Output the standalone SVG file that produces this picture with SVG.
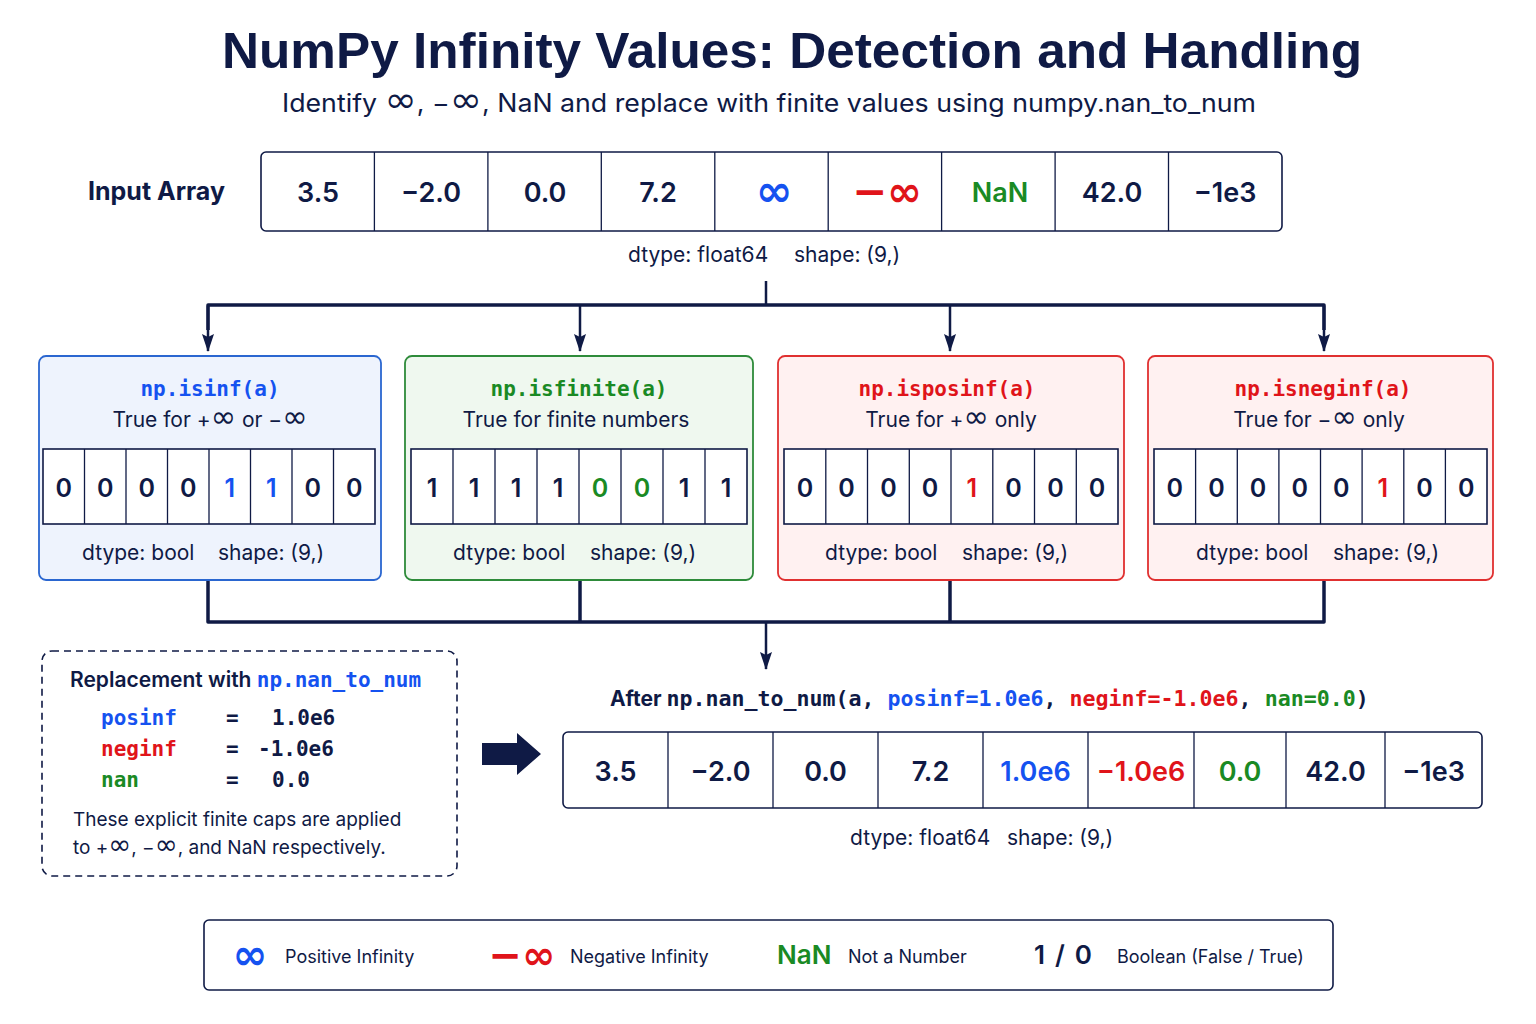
<svg xmlns="http://www.w3.org/2000/svg" width="1536" height="1024" viewBox="0 0 1536 1024">
<defs>
<marker id="ah" markerWidth="18" markerHeight="12" refX="17" refY="6" orient="auto" markerUnits="userSpaceOnUse" viewBox="0 0 18 12">
<path d="M0,0 L18,6 L0,12 L3,6 Z" fill="#0f1a45"/>
</marker>
<style>
.navy{fill:#0f1a45}
.blue{fill:#1552f0}
.red{fill:#e0141a}
.green{fill:#1a8a24}
.sans{font-family:Inter,"Liberation Sans",sans-serif}
.mono{font-family:"DejaVu Sans Mono","Liberation Mono",monospace;font-weight:bold}
.cellv{font-family:Inter,"Liberation Sans",sans-serif;font-size:27px;font-weight:600;text-anchor:middle}
.boolv{font-family:Inter,"Liberation Sans",sans-serif;font-size:25px;font-weight:600;text-anchor:middle}
.meta{font-family:Inter,"Liberation Sans",sans-serif;font-size:21px;fill:#0f1a45}
.arr{fill:#fff;stroke:#0f1a45;stroke-width:1.6}
.div{stroke:#0f1a45;stroke-width:1.3}
.conn{fill:none;stroke:#0f1a45;stroke-width:3.5;stroke-linejoin:round}
.connt{fill:none;stroke:#0f1a45;stroke-width:2.5}
.inf{font-family:"DejaVu Sans",sans-serif;font-weight:bold}
.infs{font-family:"DejaVu Sans",sans-serif;font-size:1.45em}
</style>
</defs>
<rect width="1536" height="1024" fill="#ffffff"/>

<g id="title">
<text x="792" y="68" text-anchor="middle" class="navy" font-family="Liberation Sans,sans-serif" font-weight="bold" font-size="50" textLength="1140" lengthAdjust="spacingAndGlyphs">NumPy Infinity Values: Detection and Handling</text>
<text x="769" y="112" text-anchor="middle" class="navy sans" font-size="25" textLength="974" lengthAdjust="spacingAndGlyphs">Identify <tspan class="infs">∞</tspan>, −<tspan class="infs">∞</tspan>, NaN and replace with finite values using numpy.nan_to_num</text>
</g>

<g id="input-array">
<text x="88" y="200" class="navy sans" font-size="25" font-weight="bold">Input Array</text>
<rect x="261" y="152" width="1021" height="79" rx="5" class="arr"/>
<g class="div">
<line x1="374.4" y1="152" x2="374.4" y2="231"/><line x1="487.9" y1="152" x2="487.9" y2="231"/><line x1="601.3" y1="152" x2="601.3" y2="231"/><line x1="714.8" y1="152" x2="714.8" y2="231"/><line x1="828.2" y1="152" x2="828.2" y2="231"/><line x1="941.6" y1="152" x2="941.6" y2="231"/><line x1="1055.1" y1="152" x2="1055.1" y2="231"/><line x1="1168.5" y1="152" x2="1168.5" y2="231"/>
</g>
<text x="318" y="202" class="cellv navy">3.5</text>
<text x="431" y="202" class="cellv navy">−2.0</text>
<text x="545" y="202" class="cellv navy">0.0</text>
<text x="658" y="202" class="cellv navy">7.2</text>
<text x="774" y="206" class="inf blue" font-size="44" text-anchor="middle">∞</text>
<text x="887" y="206" class="inf red" font-size="42" text-anchor="middle">−∞</text>
<text x="1000" y="202" class="cellv green">NaN</text>
<text x="1112" y="202" class="cellv navy">42.0</text>
<text x="1225" y="202" class="cellv navy">−1e3</text>
<text x="628" y="262" class="meta">dtype: float64</text>
<text x="794" y="262" class="meta">shape: (9,)</text>
</g>

<g id="connectors">
<line x1="766" y1="281" x2="766" y2="305" class="connt"/>
<path d="M208,330 V305 H1324 V330" class="conn" />
<line x1="208" y1="306" x2="208" y2="351" class="connt" marker-end="url(#ah)"/>
<line x1="580" y1="306" x2="580" y2="351" class="connt" marker-end="url(#ah)"/>
<line x1="950" y1="306" x2="950" y2="351" class="connt" marker-end="url(#ah)"/>
<line x1="1324" y1="306" x2="1324" y2="351" class="connt" marker-end="url(#ah)"/>
<path d="M208,581 V622 H1324 V581" class="conn"/>
<line x1="580" y1="581" x2="580" y2="622" class="conn"/>
<line x1="950" y1="581" x2="950" y2="622" class="conn"/>
<line x1="766" y1="622" x2="766" y2="669" class="connt" marker-end="url(#ah)"/>
<path d="M482,743 H517 V733 L541,754 L517,775 V765 H482 Z" fill="#0f1a45"/>
</g>

<g id="isinf">
<rect x="39" y="356" width="342" height="224" rx="7" fill="#eef3fd" stroke="#2a66d0" stroke-width="1.8"/>
<text x="210" y="396" class="mono blue" font-size="21" text-anchor="middle">np.isinf(a)</text>
<text x="210" y="427" class="sans navy" font-size="21" text-anchor="middle">True for +<tspan class="infs">∞</tspan> or −<tspan class="infs">∞</tspan></text>
<rect x="43" y="449" width="332" height="75" class="arr"/>
<g class="div"><line x1="84.5" y1="449" x2="84.5" y2="524"/><line x1="126" y1="449" x2="126" y2="524"/><line x1="167.5" y1="449" x2="167.5" y2="524"/><line x1="209" y1="449" x2="209" y2="524"/><line x1="250.5" y1="449" x2="250.5" y2="524"/><line x1="292" y1="449" x2="292" y2="524"/><line x1="333.5" y1="449" x2="333.5" y2="524"/></g>
<text x="63.8" y="497" class="boolv navy">0</text><text x="105.3" y="497" class="boolv navy">0</text><text x="146.8" y="497" class="boolv navy">0</text><text x="188.3" y="497" class="boolv navy">0</text><text x="229.8" y="497" class="boolv blue">1</text><text x="271.3" y="497" class="boolv blue">1</text><text x="312.8" y="497" class="boolv navy">0</text><text x="354.3" y="497" class="boolv navy">0</text>
<text x="82" y="560" class="meta">dtype: bool</text>
<text x="218" y="560" class="meta">shape: (9,)</text>
</g>

<g id="isfinite">
<rect x="405" y="356" width="348" height="224" rx="7" fill="#eff8ef" stroke="#2e8b3a" stroke-width="1.8"/>
<text x="579" y="396" class="mono green" font-size="21" text-anchor="middle">np.isfinite(a)</text>
<text x="576" y="427" class="sans navy" font-size="21" text-anchor="middle">True for finite numbers</text>
<rect x="411" y="449" width="336" height="75" class="arr"/>
<g class="div"><line x1="453" y1="449" x2="453" y2="524"/><line x1="495" y1="449" x2="495" y2="524"/><line x1="537" y1="449" x2="537" y2="524"/><line x1="579" y1="449" x2="579" y2="524"/><line x1="621" y1="449" x2="621" y2="524"/><line x1="663" y1="449" x2="663" y2="524"/><line x1="705" y1="449" x2="705" y2="524"/></g>
<text x="432" y="497" class="boolv navy">1</text><text x="474" y="497" class="boolv navy">1</text><text x="516" y="497" class="boolv navy">1</text><text x="558" y="497" class="boolv navy">1</text><text x="600" y="497" class="boolv green">0</text><text x="642" y="497" class="boolv green">0</text><text x="684" y="497" class="boolv navy">1</text><text x="726" y="497" class="boolv navy">1</text>
<text x="453" y="560" class="meta">dtype: bool</text>
<text x="590" y="560" class="meta">shape: (9,)</text>
</g>

<g id="isposinf">
<rect x="778" y="356" width="346" height="224" rx="7" fill="#fff1f1" stroke="#e03030" stroke-width="1.8"/>
<text x="947" y="396" class="mono red" font-size="21" text-anchor="middle">np.isposinf(a)</text>
<text x="951" y="427" class="sans navy" font-size="21" text-anchor="middle">True for +<tspan class="infs">∞</tspan> only</text>
<rect x="784" y="449" width="334" height="75" class="arr"/>
<g class="div"><line x1="825.8" y1="449" x2="825.8" y2="524"/><line x1="867.5" y1="449" x2="867.5" y2="524"/><line x1="909.3" y1="449" x2="909.3" y2="524"/><line x1="951" y1="449" x2="951" y2="524"/><line x1="992.8" y1="449" x2="992.8" y2="524"/><line x1="1034.5" y1="449" x2="1034.5" y2="524"/><line x1="1076.3" y1="449" x2="1076.3" y2="524"/></g>
<text x="804.9" y="497" class="boolv navy">0</text><text x="846.6" y="497" class="boolv navy">0</text><text x="888.4" y="497" class="boolv navy">0</text><text x="930.1" y="497" class="boolv navy">0</text><text x="971.9" y="497" class="boolv red">1</text><text x="1013.6" y="497" class="boolv navy">0</text><text x="1055.4" y="497" class="boolv navy">0</text><text x="1097.1" y="497" class="boolv navy">0</text>
<text x="825" y="560" class="meta">dtype: bool</text>
<text x="962" y="560" class="meta">shape: (9,)</text>
</g>

<g id="isneginf">
<rect x="1148" y="356" width="345" height="224" rx="7" fill="#fff1f1" stroke="#e03030" stroke-width="1.8"/>
<text x="1323" y="396" class="mono red" font-size="21" text-anchor="middle">np.isneginf(a)</text>
<text x="1319" y="427" class="sans navy" font-size="21" text-anchor="middle">True for −<tspan class="infs">∞</tspan> only</text>
<rect x="1154" y="449" width="333" height="75" class="arr"/>
<g class="div"><line x1="1195.6" y1="449" x2="1195.6" y2="524"/><line x1="1237.3" y1="449" x2="1237.3" y2="524"/><line x1="1278.9" y1="449" x2="1278.9" y2="524"/><line x1="1320.5" y1="449" x2="1320.5" y2="524"/><line x1="1362.1" y1="449" x2="1362.1" y2="524"/><line x1="1403.8" y1="449" x2="1403.8" y2="524"/><line x1="1445.4" y1="449" x2="1445.4" y2="524"/></g>
<text x="1174.8" y="497" class="boolv navy">0</text><text x="1216.4" y="497" class="boolv navy">0</text><text x="1258.1" y="497" class="boolv navy">0</text><text x="1299.7" y="497" class="boolv navy">0</text><text x="1341.3" y="497" class="boolv navy">0</text><text x="1382.9" y="497" class="boolv red">1</text><text x="1424.6" y="497" class="boolv navy">0</text><text x="1466.2" y="497" class="boolv navy">0</text>
<text x="1196" y="560" class="meta">dtype: bool</text>
<text x="1333" y="560" class="meta">shape: (9,)</text>
</g>

<g id="replacement">
<rect x="42" y="651" width="415" height="225" rx="10" fill="#fff" stroke="#0f1a45" stroke-width="1.6" stroke-dasharray="7,5"/>
<text x="70" y="687" class="sans navy" font-size="21" font-weight="600">Replacement with <tspan class="mono blue" font-size="21">np.nan_to_num</tspan></text>
<text x="101" y="725" class="mono blue" font-size="21">posinf</text>
<text x="226" y="725" class="mono navy" font-size="21">=</text>
<text x="272" y="725" class="mono navy" font-size="21">1.0e6</text>
<text x="101" y="756" class="mono red" font-size="21">neginf</text>
<text x="226" y="756" class="mono navy" font-size="21">=</text>
<text x="258" y="756" class="mono navy" font-size="21">-1.0e6</text>
<text x="101" y="787" class="mono green" font-size="21">nan</text>
<text x="226" y="787" class="mono navy" font-size="21">=</text>
<text x="272" y="787" class="mono navy" font-size="21">0.0</text>
<text x="73" y="826" class="sans navy" font-size="19">These explicit finite caps are applied</text>
<text x="73" y="854" class="sans navy" font-size="19">to +<tspan class="infs">∞</tspan>, −<tspan class="infs">∞</tspan>, and NaN respectively.</text>
</g>

<g id="output-array">
<text x="610" y="706" class="sans navy" font-size="21" font-weight="bold">After <tspan class="mono navy" font-size="21.6">np.nan_to_num(a, </tspan><tspan class="mono blue" font-size="21.6">posinf=1.0e6</tspan><tspan class="mono navy" font-size="21.6">, </tspan><tspan class="mono red" font-size="21.6">neginf=-1.0e6</tspan><tspan class="mono navy" font-size="21.6">, </tspan><tspan class="mono green" font-size="21.6">nan=0.0</tspan><tspan class="mono navy" font-size="21.6">)</tspan></text>
<rect x="563" y="732" width="919" height="76" rx="5" class="arr"/>
<g class="div"><line x1="668" y1="732" x2="668" y2="808"/><line x1="773" y1="732" x2="773" y2="808"/><line x1="878" y1="732" x2="878" y2="808"/><line x1="983" y1="732" x2="983" y2="808"/><line x1="1088" y1="732" x2="1088" y2="808"/><line x1="1194" y1="732" x2="1194" y2="808"/><line x1="1286" y1="732" x2="1286" y2="808"/><line x1="1385" y1="732" x2="1385" y2="808"/></g>
<text x="615.5" y="781" class="cellv navy">3.5</text>
<text x="720.5" y="781" class="cellv navy">−2.0</text>
<text x="825.5" y="781" class="cellv navy">0.0</text>
<text x="930.5" y="781" class="cellv navy">7.2</text>
<text x="1035.5" y="781" class="cellv blue">1.0e6</text>
<text x="1141" y="781" class="cellv red">−1.0e6</text>
<text x="1240" y="781" class="cellv green">0.0</text>
<text x="1335.5" y="781" class="cellv navy">42.0</text>
<text x="1433.5" y="781" class="cellv navy">−1e3</text>
<text x="850" y="845" class="meta">dtype: float64</text>
<text x="1007" y="845" class="meta">shape: (9,)</text>
</g>

<g id="legend">
<rect x="204" y="920" width="1129" height="70" rx="5" fill="#fff" stroke="#0f1a45" stroke-width="1.6"/>
<text x="250" y="969" class="inf blue" font-size="42" text-anchor="middle">∞</text>
<text x="285" y="963" class="sans navy" font-size="18">Positive Infinity</text>
<text x="522" y="969" class="inf red" font-size="40" text-anchor="middle">−∞</text>
<text x="570" y="963" class="sans navy" font-size="18">Negative Infinity</text>
<text x="777" y="964" class="sans green" font-size="26" font-weight="600">NaN</text>
<text x="848" y="963" class="sans navy" font-size="18">Not a Number</text>
<text x="1034" y="964" class="sans navy" font-size="26" font-weight="600" textLength="58">1 / 0</text>
<text x="1117" y="963" class="sans navy" font-size="18">Boolean (False / True)</text>
</g>
</svg>
